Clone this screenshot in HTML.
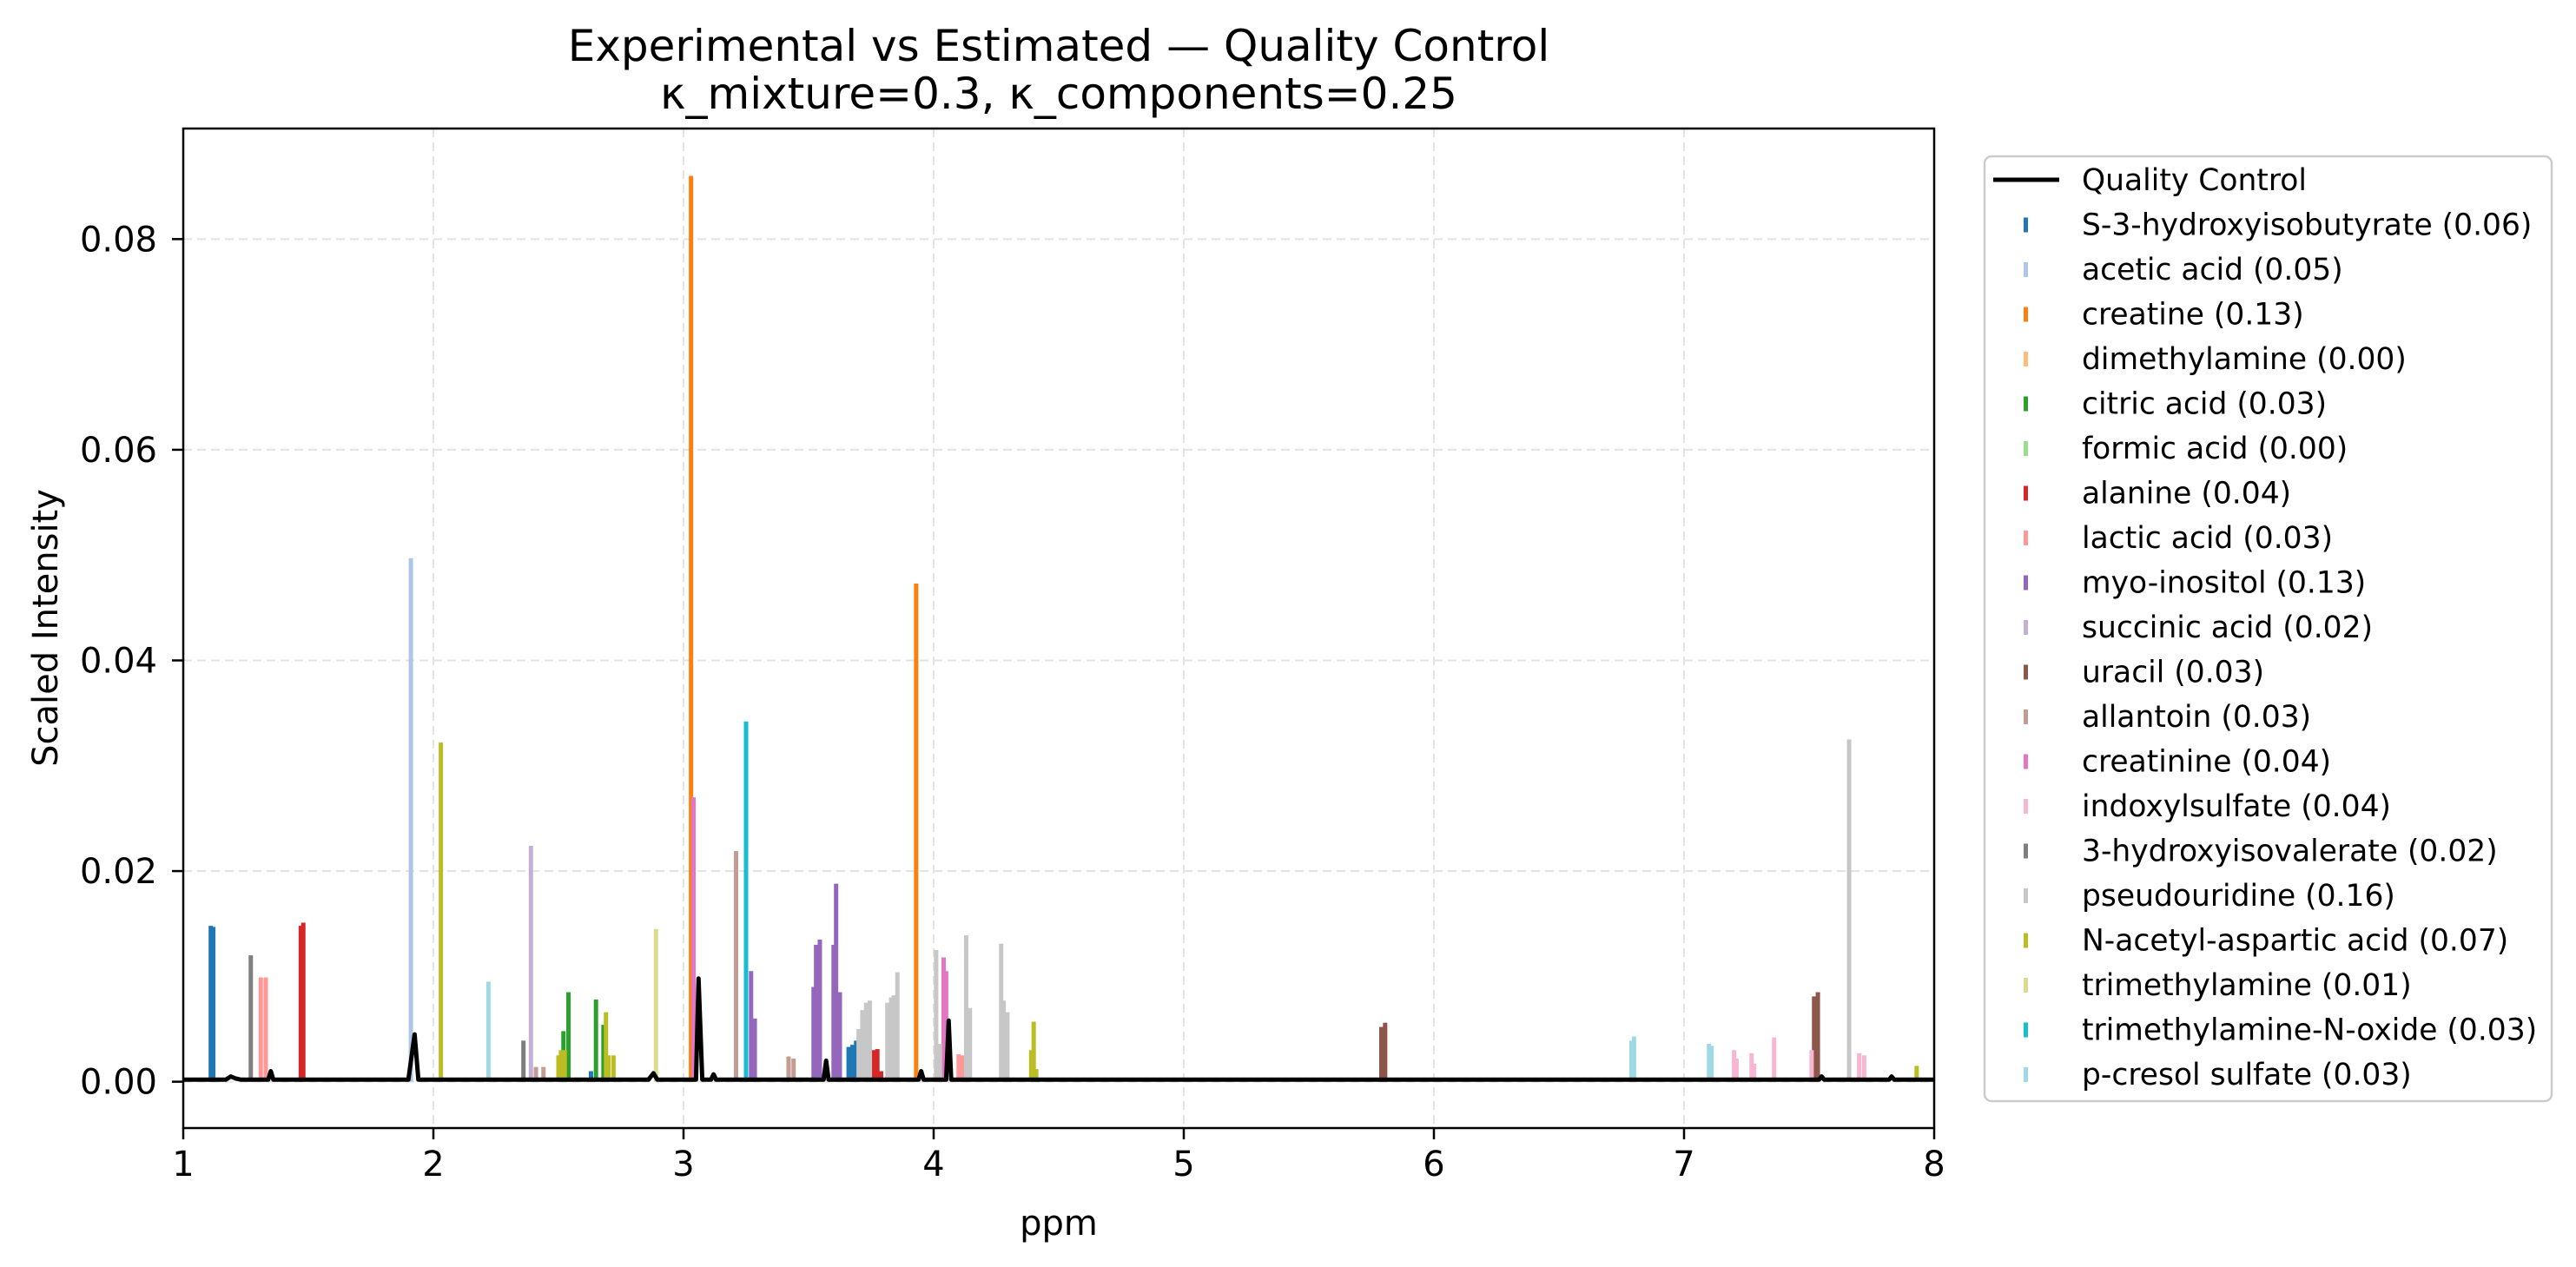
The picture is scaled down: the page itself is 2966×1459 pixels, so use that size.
<!DOCTYPE html>
<html><head><meta charset="utf-8"><style>
html,body{margin:0;padding:0;background:#fff;}
svg{display:block;font-family:"DejaVu Sans","Liberation Sans",sans-serif;}
</style></head><body>
<svg id="chart" width="2966" height="1459" viewBox="0 0 2966 1459" xmlns="http://www.w3.org/2000/svg">
<rect width="2966" height="1459" fill="#fff"/>
<g id="grid"></g><g id="marks"></g><g id="axes"></g><g id="legend"></g>
<text x="1219" y="70" font-size="50" text-anchor="middle">Experimental vs Estimated — Quality Control</text>
<text x="1219" y="125" font-size="50" text-anchor="middle">κ_mixture=0.3, κ_components=0.25</text>
<text x="0" y="0" font-size="40" text-anchor="middle" transform="translate(66,723) rotate(-90)">Scaled Intensity</text>
<text x="1219" y="1422" font-size="40" text-anchor="middle">ppm</text>
</svg>
<script>
const xTicks=[1,2,3,4,5,6,7,8];
const yTicks=[0,0.02,0.04,0.06,0.08];
const yTickLabels=["0.00","0.02","0.04","0.06","0.08"];
const names=["S-3-hydroxyisobutyrate (0.06)","acetic acid (0.05)","creatine (0.13)","dimethylamine (0.00)","citric acid (0.03)","formic acid (0.00)","alanine (0.04)","lactic acid (0.03)","myo-inositol (0.13)","succinic acid (0.02)","uracil (0.03)","allantoin (0.03)","creatinine (0.04)","indoxylsulfate (0.04)","3-hydroxyisovalerate (0.02)","pseudouridine (0.16)","N-acetyl-aspartic acid (0.07)","trimethylamine (0.01)","trimethylamine-N-oxide (0.03)","p-cresol sulfate (0.03)"];
const colors=["#1f77b4","#aec7e8","#ff7f0e","#ffbb78","#2ca02c","#98df8a","#d62728","#ff9896","#9467bd","#c5b0d5","#8c564b","#c49c94","#e377c2","#f7b6d2","#7f7f7f","#c7c7c7","#bcbd22","#dbdb8d","#17becf","#9edae5"];
const peakPpm=[
 [1.11,1.12,2.63,3.66,3.675,3.69],
 [1.91],
 [3.03,3.93],
 [],
 [2.52,2.54,2.65,2.68],
 [],
 [1.47,1.48,3.76,3.775,3.79],
 [1.31,1.33,4.10,4.115],
 [3.52,3.53,3.545,3.60,3.61,3.625,3.27,3.285],
 [2.39],
 [5.79,5.805,7.52,7.535],
 [2.41,2.44,3.21,3.42,3.44],
 [3.04,4.04,4.05],
 [7.20,7.21,7.27,7.28,7.36,7.51,7.70,7.72],
 [1.27,2.36],
 [3.70,3.715,3.73,3.745,3.815,3.83,3.84,3.855,4.01,4.025,4.13,4.145,4.27,4.28,4.295,7.66],
 [2.03,2.50,2.51,2.525,2.69,2.70,2.72,4.39,4.40,4.41,7.93],
 [2.89],
 [3.25],
 [2.22,6.79,6.80,7.10,7.11]
];
const peakHeight=[
 [0.0148,0.0147,0.001,0.0033,0.0035,0.0039],
 [0.0497],
 [0.0860,0.0473],
 [],
 [0.0048,0.0085,0.0078,0.0054],
 [],
 [0.0148,0.0151,0.0030,0.0031,0.0010],
 [0.0099,0.0099,0.0026,0.0025],
 [0.0090,0.0130,0.0135,0.0130,0.0188,0.0085,0.0105,0.0060],
 [0.0224],
 [0.0052,0.0056,0.0081,0.0085],
 [0.0014,0.0014,0.0219,0.0024,0.0022],
 [0.0270,0.0118,0.0105],
 [0.0030,0.0022,0.0027,0.0017,0.0042,0.0030,0.0027,0.0025],
 [0.0120,0.0039],
 [0.0050,0.0068,0.0075,0.0077,0.0075,0.0080,0.0082,0.0104,0.0125,0.0036,0.0139,0.0070,0.0131,0.0077,0.0066,0.0325],
 [0.0322,0.0025,0.0030,0.0030,0.0066,0.0025,0.0025,0.0030,0.0057,0.0012,0.0015],
 [0.0145],
 [0.0342],
 [0.0095,0.0039,0.0043,0.0036,0.0034]
];
const qcPpm=[1.0,1.17,1.19,1.21,1.23,1.34,1.35,1.36,1.9,1.925,1.94,2.86,2.88,2.895,3.05,3.06,3.075,3.11,3.12,3.13,3.56,3.57,3.58,3.94,3.95,3.96,4.05,4.06,4.07,7.54,7.55,7.56,7.82,7.83,7.84,8.0];
const qcVal=[0.0002,0.0002,0.0005,0.0003,0.0002,0.0002,0.0010,0.0002,0.0002,0.0045,0.0002,0.0002,0.0008,0.0002,0.0002,0.0098,0.0002,0.0002,0.0007,0.0002,0.0002,0.0020,0.0002,0.0002,0.0010,0.0002,0.0002,0.0058,0.0002,0.0002,0.0005,0.0002,0.0002,0.0005,0.0002,0.0002];

const L=211,R=2227,T=148,B=1299;
const xMin=1,xMax=8,yMin=-0.0044,yMax=0.0905;
const xs=v=>L+(v-xMin)/(xMax-xMin)*(R-L);
const ys=v=>B-(v-yMin)/(yMax-yMin)*(B-T);
const NS="http://www.w3.org/2000/svg";
function mk(tag,attrs,parent){const e=document.createElementNS(NS,tag);for(const k in attrs)e.setAttribute(k,attrs[k]);parent.appendChild(e);return e;}
const grid=document.getElementById('grid'),marks=document.getElementById('marks'),axes=document.getElementById('axes'),leg=document.getElementById('legend');

xTicks.forEach(t=>{
  if(t>xMin&&t<xMax){const g=mk('line',{x1:xs(t),x2:xs(t),y1:T,y2:B,stroke:'#e3e3e3','stroke-width':2,'stroke-dasharray':'10,6'},grid);
  
  }
  const tk=mk('line',{x1:xs(t),x2:xs(t),y1:B,y2:B+13,stroke:'#000','stroke-width':2.5},axes);
  
  
  const lb=mk('text',{x:xs(t),y:B+55,'font-size':40,'text-anchor':'middle'},axes);lb.textContent=t;
  
  
});
yTicks.forEach((t,i)=>{
  const g=mk('line',{x1:L,x2:R,y1:ys(t),y2:ys(t),stroke:'#e3e3e3','stroke-width':2,'stroke-dasharray':'10,6'},grid);
  
  
  const tk=mk('line',{x1:L-13,x2:L,y1:ys(t),y2:ys(t),stroke:'#000','stroke-width':2.5},axes);
  
  
  const lb=mk('text',{x:L-30,y:ys(t)+14,'font-size':40,'text-anchor':'end'},axes);lb.textContent=yTickLabels[i];
  
  
});
peakPpm.forEach((arr,si)=>{
  arr.forEach((p,j)=>{
    const h=peakHeight[si][j];
    const r=mk('rect',{x:xs(p)-2.5,y:ys(h),width:5,height:ys(0)-ys(h),fill:colors[si]},marks);
    
    
  });
});
let d='';qcPpm.forEach((p,i)=>{d+=(i?'L':'M')+xs(p).toFixed(1)+','+ys(qcVal[i]).toFixed(1);});
const qc=mk('path',{d:d,fill:'none',stroke:'#000','stroke-width':5,'stroke-linejoin':'round'},marks);


const frame=mk('rect',{x:L,y:T,width:R-L,height:B-T,fill:'none',stroke:'#000','stroke-width':2.5},axes);



const lb=mk('rect',{x:2285,y:180,width:653,height:1088,rx:8,fill:'#fff',stroke:'#cccccc','stroke-width':2.5},leg);


const y0=207,dy=51.5;
const ql=mk('line',{x1:2295,x2:2371,y1:y0,y2:y0,stroke:'#000','stroke-width':5},leg);


const qt=mk('text',{x:2397,y:y0+12,'font-size':34.5},leg);qt.textContent='Quality Control';


names.forEach((n,i)=>{
  const y=y0+dy*(i+1);
  const s=mk('rect',{x:2330,y:y-8,width:5,height:17,fill:colors[i]},leg);
  
  
  const t=mk('text',{x:2397,y:y+12,'font-size':34.5},leg);t.textContent=n;
  
  
});
</script>
</body></html>
